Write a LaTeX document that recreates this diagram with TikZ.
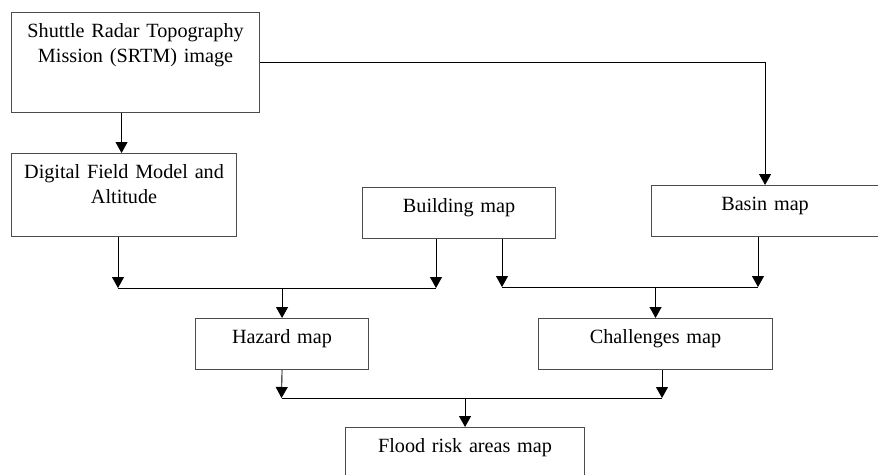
\documentclass[tikz,border=0pt]{standalone}
\usepackage{fontspec}
\setmainfont{Liberation Serif}
\usepackage{tikz}
\usetikzlibrary{arrows.meta}
\tikzstyle{block} = [draw=black!70, line width=1.1pt, anchor=north west, inner sep=0pt, align=center, text height=25pt, font=\fontsize{20.2}{25}\selectfont]
\tikzstyle{arrow} = [-{Triangle[width=12pt, length=11pt]}]
\tikzstyle{bar} = [line width=0.9pt]

\begin{document}
\begin{tikzpicture}[x=1pt, y=-1pt, line width=0.9pt]
	\useasboundingbox (0, 0) rectangle (878, 474);
	\node[block, text width=248pt, text depth=75pt](srtm) at (11, 12){Shuttle Radar Topography\\Mission (SRTM) image};
	\node[block, text width=225pt, text depth=58pt](dfm) at (11, 153){Digital Field Model and\\Altitude};
	\node[block, text width=193pt, text depth=26pt](bld) at (362, 187){Building map};
	\node[block, text width=227pt, text depth=26pt](basin) at (651, 185){Basin map};
	\node[block, text width=173pt, text depth=26pt](haz) at (195, 318){Hazard map};
	\node[block, text width=234pt, text depth=26pt](chal) at (538, 318){Challenges map};
	\node[block, text width=239pt, text depth=45pt](flood) at (345, 427){Flood risk areas map};
	\coordinate (l1) at (118, 288);
	\coordinate (l2) at (436, 288);
	\coordinate (r1) at (502, 287);
	\coordinate (r2) at (758, 287);
	\coordinate (b1) at (281.5, 398);
	\coordinate (b2) at (662, 398);
	\draw[arrow]([xshift=-2.5pt]srtm.south -| dfm.north) -- ([xshift=-2.5pt]dfm.north);
	\draw[arrow](srtm.east) -| (basin.north);
	\draw[arrow](dfm.south -| l1) -- (l1);
	\draw[arrow](bld.south -| l2) -- (l2);
	\draw[bar](l1) -- (l2);
	\draw[arrow](haz.north |- l1) -- (haz.north);
	\draw[arrow](bld.south -| r1) -- (r1);
	\draw[arrow](basin.south -| r2) -- (r2);
	\draw[bar](r1) -- (r2);
	\draw[arrow](chal.north |- r1) -- (chal.north);
	\draw[arrow](haz.south) -- (b1);
	\draw[arrow](chal.south -| b2) -- (b2);
	\draw[bar](b1) -- (b2);
	\draw[arrow](flood.north |- b1) -- (flood.north);
\end{tikzpicture}
\end{document}
